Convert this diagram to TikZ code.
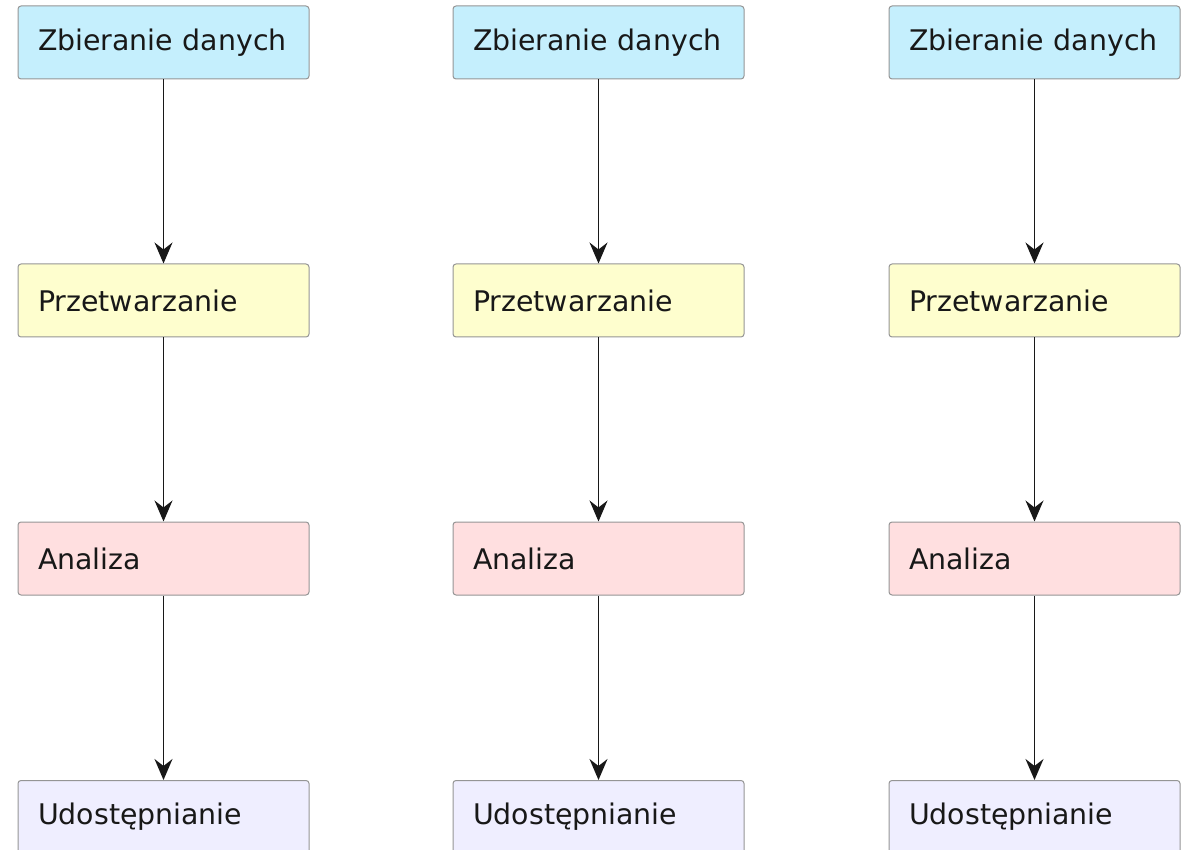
\documentclass[tikz,border=0pt]{standalone}
\usepackage{fontspec}
\setmainfont{DejaVu Sans}
\usepackage{tikz}
\usetikzlibrary{arrows.meta, positioning}
\definecolor{zbierfill}{HTML}{C5EFFD}
\definecolor{przetfill}{HTML}{FEFECE}
\definecolor{analfill}{HTML}{FFDFE0}
\definecolor{udosfill}{HTML}{EFEEFF}
\definecolor{boxline}{HTML}{959595}
\definecolor{arrline}{HTML}{181818}
\tikzset{
    stage/.style={draw=boxline, line width=1pt, rounded corners=3pt,
        minimum width=291pt, minimum height=73pt, inner sep=0pt,
        text width=251pt, align=left, text=arrline,
        font=\fontsize{28.4}{34}\selectfont},
    flow/.style={draw=arrline, line width=1.5pt,
        -{Stealth[length=21pt, width=18pt, inset=7pt]}}
}

\begin{document}
\begin{tikzpicture}[x=1pt, y=-1pt]
    \useasboundingbox (0,0) rectangle (1187,850);

    \node (A1) [stage, fill=zbierfill] at (163.5,42.5) {Zbieranie danych};
    \node (B1) [stage, fill=przetfill] at (163.5,300.5) {Przetwarzanie};
    \node (C1) [stage, fill=analfill] at (163.5,558.5) {Analiza};
    \node (D1) [stage, fill=udosfill] at (163.5,817) {Udostępnianie};

    \node (A2) [stage, fill=zbierfill] at (598.5,42.5) {Zbieranie danych};
    \node (B2) [stage, fill=przetfill] at (598.5,300.5) {Przetwarzanie};
    \node (C2) [stage, fill=analfill] at (598.5,558.5) {Analiza};
    \node (D2) [stage, fill=udosfill] at (598.5,817) {Udostępnianie};

    \node (A3) [stage, fill=zbierfill] at (1034.5,42.5) {Zbieranie danych};
    \node (B3) [stage, fill=przetfill] at (1034.5,300.5) {Przetwarzanie};
    \node (C3) [stage, fill=analfill] at (1034.5,558.5) {Analiza};
    \node (D3) [stage, fill=udosfill] at (1034.5,817) {Udostępnianie};

    \draw [flow] (A1) to (B1);
    \draw [flow] (B1) to (C1);
    \draw [flow] (C1) to (D1);
    \draw [flow] (A2) to (B2);
    \draw [flow] (B2) to (C2);
    \draw [flow] (C2) to (D2);
    \draw [flow] (A3) to (B3);
    \draw [flow] (B3) to (C3);
    \draw [flow] (C3) to (D3);
\end{tikzpicture}
\end{document}
